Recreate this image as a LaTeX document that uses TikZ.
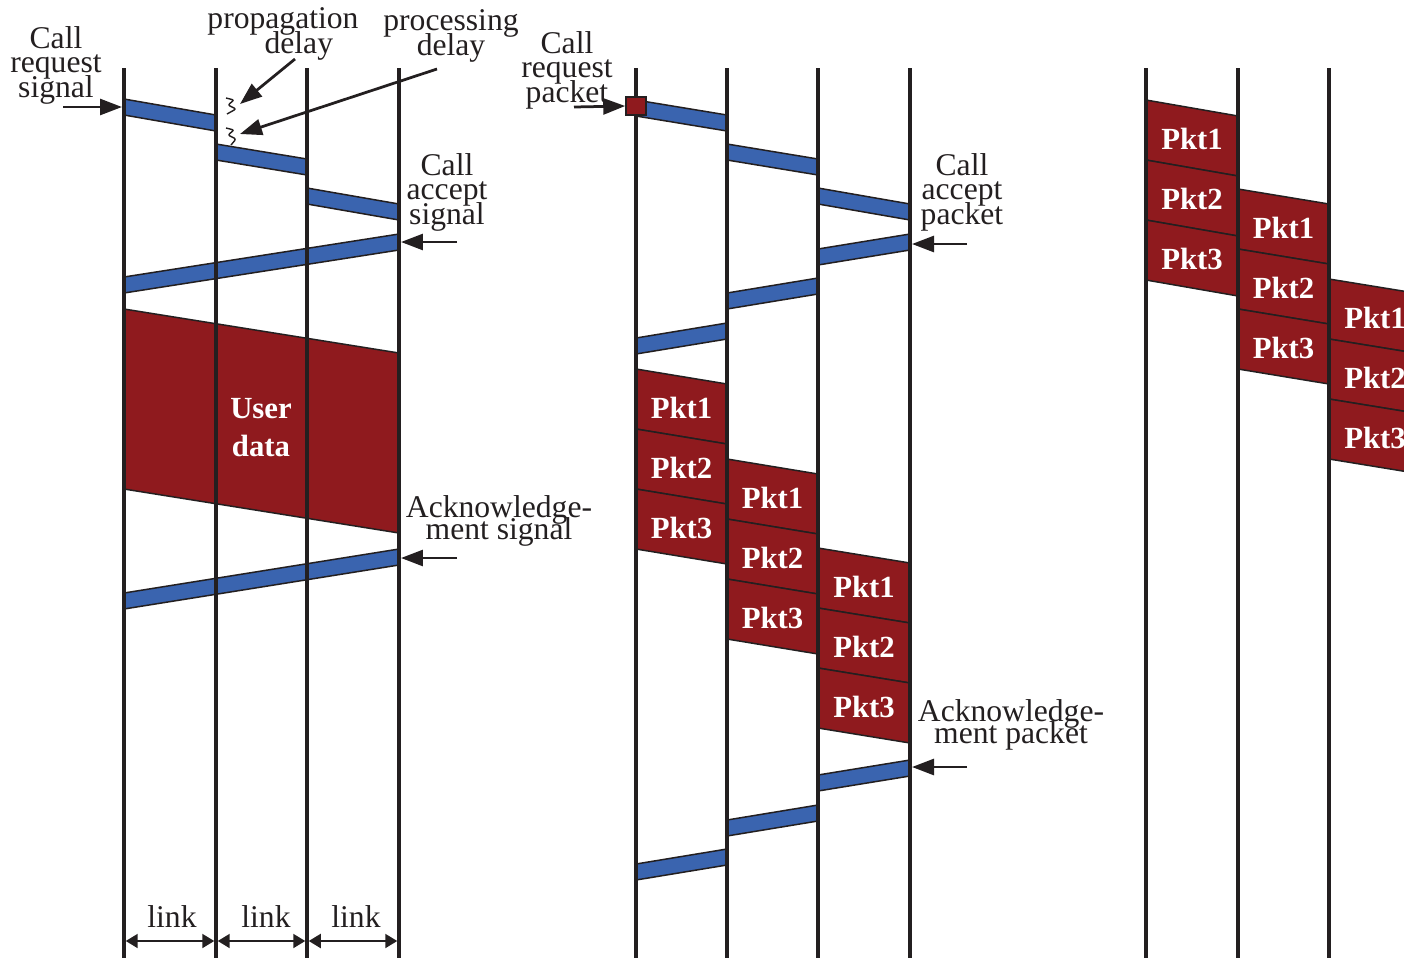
\documentclass[tikz,border=0pt]{standalone}
\usepackage{fontspec}
\setmainfont{Liberation Serif}
\usetikzlibrary{arrows.meta}
\definecolor{lifeline}{HTML}{231F20}
\definecolor{sigblue}{HTML}{3A64AF}
\definecolor{pktred}{HTML}{8F1A1E}
\newcommand{\tightlines}{\lineskiplimit=-100pt\relax}

\begin{document}
\begin{tikzpicture}[x=0.02cm,y=-0.02cm,
    life/.style={line width=0.07cm,lifeline},
    sigbar/.style={fill=sigblue,draw=lifeline,line width=0.03cm,line join=miter},
    pktbox/.style={fill=pktred,draw=lifeline,line width=0.03cm},
    pktlbl/.style={font=\fontsize{17.5}{14}\selectfont\bfseries,text=white,inner sep=0pt},
    lbl/.style={font={\fontsize{18}{13.7}\selectfont\tightlines},align=center,anchor=base,inner sep=0pt,text=lifeline},
    acklbl/.style={lbl,font={\fontsize{18}{12.4}\selectfont\tightlines}},
    callout/.style={line width=0.055cm,lifeline,-{Triangle[length=0.44cm,width=0.32cm]}},
    linkarrow/.style={line width=0.04cm,lifeline,{Triangle[length=0.24cm,width=0.28cm]}-{Triangle[length=0.24cm,width=0.28cm]},shorten <=0.035cm,shorten >=0.035cm},
    squig/.style={line width=0.028cm,lifeline,rounded corners=0.04cm}]
  \useasboundingbox (0,0) rectangle (1404,958);
  \clip (0,0) rectangle (1404,958);

  % signalling bars (x1/top1/x2/top2)
  \foreach \xa/\ya/\xb/\yb in {124/99/216/115, 216/144/307/159, 307/188/399/204,
      399/234/124/277, 399/549/124/593,
      636/100/727/115, 727/144/818/159, 818/188/910/204,
      910/234/818/249, 818/278/727/293, 727/323/636/338,
      910/760/818/775, 818/805/727/820, 727/849/636/864}
    \draw[sigbar] (\xa,\ya) -- (\xb,\yb) -- (\xb,\yb+16) -- (\xa,\ya+16) -- cycle;

  % circuit: user data
  \draw[pktbox] (124,309) -- (399,353) -- (399,533) -- (124,489) -- cycle;
  \node[pktlbl,align=center,anchor=base,font={\fontsize{17.5}{21.6}\selectfont\bfseries\tightlines}] (userdata) at (261,456) {User\\data};

  % packets on each link
  \foreach \xa/\ya/\xb/\yb in {636/369/727/384, 727/459/818/474, 818/548/910/563,
      1146/100/1238/116, 1238/189/1329/204, 1329/279/1421/294}
    \foreach \k in {1,2,3} {
      \draw[pktbox] (\xa,{\ya+60*(\k-1)}) -- (\xb,{\yb+60*(\k-1)}) -- (\xb,{\yb+60*\k}) -- (\xa,{\ya+60*\k}) -- cycle;
      \node[pktlbl] (pkt\xa-\k) at ({(\xa+\xb)/2},{(\ya+\yb)/2+60*\k-29}) {Pkt\k};
    }

  % lifelines
  \foreach \x in {124,216,307,399,636,727,818,910,1146,1238,1329,1421}
    \draw[life] (\x,68) -- (\x,958);

  \node[pktbox,minimum width=0.4cm,minimum height=0.36cm,inner sep=0pt] (reqsq) at (636,106) {};

  % delay marks
  \draw[squig] (226,98) -- (234,100) -- (228,105) -- (236,109) -- (227,114);
  \draw[squig] (226,128) -- (234,130) -- (228,135) -- (236,139) -- (231,145);

  % labels
  \node[lbl] (reqsig) at (56,97) {Call\\request\\signal};
  \node[lbl] (propdelay) at (283,53) {propagation\\\hspace*{1em}delay};
  \node[lbl] (procdelay) at (451,55) {processing\\delay};
  \node[lbl] (reqpkt) at (567,102) {Call\\request\\packet};
  \node[lbl] (accsig) at (447,224) {Call\\accept\\signal};
  \node[lbl] (accpkt) at (962,224) {Call\\accept\\packet};
  \node[acklbl] (acksig) at (499,539) {Acknowledge-\\ment signal};
  \node[acklbl] (ackpkt) at (1011,743) {Acknowledge-\\ment packet};

  % callout arrows
  \coordinate (reqsig-a) at (63,107);   \coordinate (reqsig-b) at (122,107);
  \coordinate (prop-a) at (295,59);     \coordinate (prop-b) at (240,104);
  \coordinate (proc-a) at (437,69);     \coordinate (proc-b) at (240,134);
  \coordinate (accsig-a) at (457,242);  \coordinate (accsig-b) at (401,242);
  \coordinate (acksig-a) at (457,558);  \coordinate (acksig-b) at (401,558);
  \coordinate (reqpkt-a) at (574,107);
  \coordinate (accpkt-a) at (967,244);  \coordinate (accpkt-b) at (912,244);
  \coordinate (ackpkt-a) at (967,767);  \coordinate (ackpkt-b) at (912,767);
  \draw[callout] (reqsig-a) -- (reqsig-b);
  \draw[callout] (prop-a) -- (prop-b);
  \draw[callout] (proc-a) -- (proc-b);
  \draw[callout] (accsig-a) -- (accsig-b);
  \draw[callout] (acksig-a) -- (acksig-b);
  \draw[callout] (reqpkt-a) -- (reqsq.west);
  \draw[callout] (accpkt-a) -- (accpkt-b);
  \draw[callout] (ackpkt-a) -- (ackpkt-b);

  % link spans
  \foreach \x [count=\i] in {124,216,307,399}
    \coordinate (lk\i) at (\x,941);
  \draw[linkarrow] (lk1) -- (lk2);
  \draw[linkarrow] (lk2) -- (lk3);
  \draw[linkarrow] (lk3) -- (lk4);
  \node[lbl] (link1) at (172,927) {link};
  \node[lbl] (link2) at (266,927) {link};
  \node[lbl] (link3) at (356,927) {link};
\end{tikzpicture}
\end{document}
